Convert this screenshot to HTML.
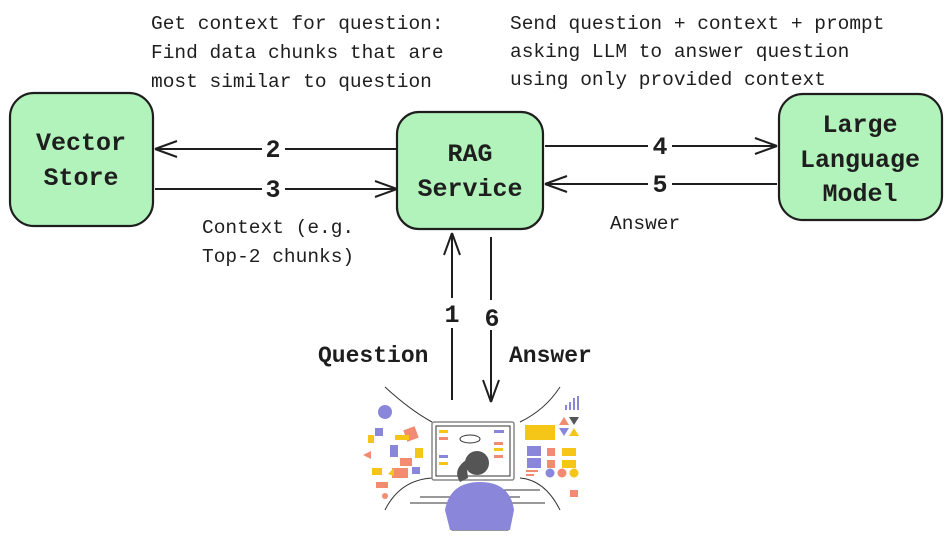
<!DOCTYPE html>
<html><head><meta charset="utf-8"><style>
html,body{margin:0;padding:0;background:#fff;}
svg{display:block}
text{font-family:"Liberation Mono",monospace;fill:#1e1e1e}
</style></head><body>
<svg width="952" height="557" viewBox="0 0 952 557" xmlns="http://www.w3.org/2000/svg">
<g stroke="#1e1e1e" stroke-width="2.2" fill="#b2f2bb">
<rect x="10" y="93" width="143" height="133" rx="24"/>
<rect x="397" y="112" width="146" height="117" rx="22"/>
<rect x="779" y="94" width="163" height="126" rx="24"/>
</g>
<g font-size="25" text-anchor="middle" font-weight="bold">
<text x="81" y="150">Vector</text><text x="81" y="185">Store</text>
<text x="470" y="161">RAG</text><text x="470" y="196">Service</text>
<text x="860" y="132">Large</text><text x="860" y="167">Language</text><text x="860" y="201">Model</text>
</g>
<g stroke="#1e1e1e" stroke-width="2" fill="none">
<path d="M397 149 H285 M262 149 H155 M155 149 l22 -8 M155 149 l22 8"/>
<path d="M155 189 H262 M285 189 H397 M397 189 l-22 -8 M397 189 l-22 8"/>
<path d="M545 146 H648 M672 146 H777 M777 146 l-22 -8 M777 146 l-22 8"/>
<path d="M777 184 H672 M648 184 H545 M545 184 l22 -8 M545 184 l22 8"/>
<path d="M452 400 V328 M452 298 V233 M452 233 l-8 22 M452 233 l8 22"/>
<path d="M491 237 V300 M491 330 V402 M491 402 l-8 -22 M491 402 l8 -22"/>
</g>
<g font-size="25" text-anchor="middle" font-weight="bold">
<text x="273" y="157">2</text><text x="273" y="197">3</text>
<text x="660" y="154">4</text><text x="660" y="192">5</text>
<text x="452" y="322">1</text><text x="492" y="326">6</text>
</g>
<g font-size="19.5">
<text x="151" y="29">Get context for question:</text>
<text x="151" y="58">Find data chunks that are</text>
<text x="151" y="87">most similar to question</text>
<text x="510" y="29">Send question + context + prompt</text>
<text x="510" y="57">asking LLM to answer question</text>
<text x="510" y="85">using only provided context</text>
<text x="202" y="233">Context (e.g.</text>
<text x="202" y="262">Top-2 chunks)</text>
<text x="610" y="229">Answer</text>
</g>
<g font-size="23" font-weight="bold"><text x="318" y="362">Question</text><text x="509" y="362">Answer</text></g>
<!-- illustration -->
<g fill="none" stroke="#333" stroke-width="1">
<path d="M385 387 Q410 410 432 422"/><path d="M520 422 Q545 410 560 387"/>
<path d="M385 510 Q400 480 432 478"/><path d="M520 478 Q545 480 560 510"/>
<rect x="432" y="422" width="82" height="58" rx="2" stroke="#888" stroke-width="1.5"/>
<rect x="436" y="426" width="74" height="50" stroke="#333"/>
<path d="M460 490 H540 M420 497 H520 M410 503 H545"/>
<path d="M452 530 Q455 510 480 510 Q505 510 508 530 Z"/>
</g>
<g>
<ellipse cx="470" cy="439" rx="10" ry="4" fill="#fff" stroke="#333"/>
<rect x="439" y="430" width="9" height="3" fill="#f5c518"/><rect x="439" y="437" width="9" height="3" fill="#f28b6f"/>
<rect x="439" y="455" width="9" height="3" fill="#8a86d9"/><rect x="439" y="462" width="9" height="3" fill="#f5c518"/>
<rect x="494" y="430" width="10" height="3" fill="#8a86d9"/><rect x="494" y="442" width="9" height="3" fill="#f28b6f"/>
<rect x="494" y="448" width="9" height="3" fill="#f5c518"/><rect x="494" y="455" width="9" height="3" fill="#f28b6f"/>
<path d="M445 510 Q450 482 480 482 Q510 482 514 510 L510 530 H450 Z" fill="#8a86d9"/>
<circle cx="477" cy="463" r="12" fill="#555"/>
<path d="M466 460 Q452 470 460 482 L468 478 Z" fill="#555"/>
<circle cx="385" cy="412" r="7" fill="#8a86d9"/><rect x="375" y="428" width="8" height="8" fill="#8a86d9"/>
<rect x="405" y="428" width="12" height="12" fill="#f28b6f" transform="rotate(-20 411 434)"/>
<rect x="395" y="435" width="14" height="5" fill="#f5c518"/><rect x="368" y="435" width="6" height="8" fill="#f5c518"/>
<rect x="390" y="445" width="8" height="12" fill="#8a86d9"/><rect x="415" y="448" width="8" height="10" fill="#f5c518"/>
<rect x="400" y="458" width="12" height="8" fill="#f28b6f"/><rect x="372" y="468" width="10" height="7" fill="#f5c518"/>
<rect x="392" y="468" width="16" height="10" fill="#f28b6f"/><rect x="412" y="467" width="8" height="7" fill="#8a86d9"/>
<rect x="376" y="482" width="12" height="6" fill="#f28b6f"/><circle cx="385" cy="496" r="3" fill="#f28b6f"/>
<path d="M363 455 l8 -4 v8 Z" fill="#f28b6f"/><path d="M388 474 l6 -6 v8 Z" fill="#f5c518"/>
<rect x="565" y="405" width="2" height="5" fill="#8a86d9"/><rect x="569" y="402" width="2" height="8" fill="#8a86d9"/><rect x="573" y="398" width="2" height="12" fill="#8a86d9"/><rect x="577" y="396" width="2" height="14" fill="#8a86d9"/>
<path d="M559 425 l5 -8 5 8Z" fill="#f28b6f"/><path d="M569 417 h10 l-5 8Z" fill="#555"/>
<path d="M559 428 h10 l-5 8Z" fill="#8a86d9"/><path d="M569 436 l5 -8 5 8Z" fill="#f5c518"/>
<rect x="525" y="425" width="30" height="15" fill="#f5c518"/>
<rect x="527" y="446" width="14" height="10" fill="#8a86d9"/><rect x="547" y="448" width="8" height="8" fill="#f28b6f"/><rect x="562" y="448" width="14" height="8" fill="#f5c518"/>
<rect x="527" y="458" width="14" height="10" fill="#8a86d9"/><rect x="547" y="460" width="8" height="8" fill="#f28b6f"/><rect x="562" y="460" width="14" height="8" fill="#f5c518"/>
<rect x="526" y="470" width="12" height="2" fill="#f28b6f"/><rect x="526" y="474" width="8" height="2" fill="#f28b6f"/>
<circle cx="550" cy="473" r="4.5" fill="#8a86d9"/><circle cx="562" cy="473" r="4.5" fill="#f28b6f"/><circle cx="574" cy="473" r="4.5" fill="#f5c518"/>
<rect x="570" y="490" width="8" height="7" fill="#f28b6f"/>
</g>
</svg>
</body></html>
